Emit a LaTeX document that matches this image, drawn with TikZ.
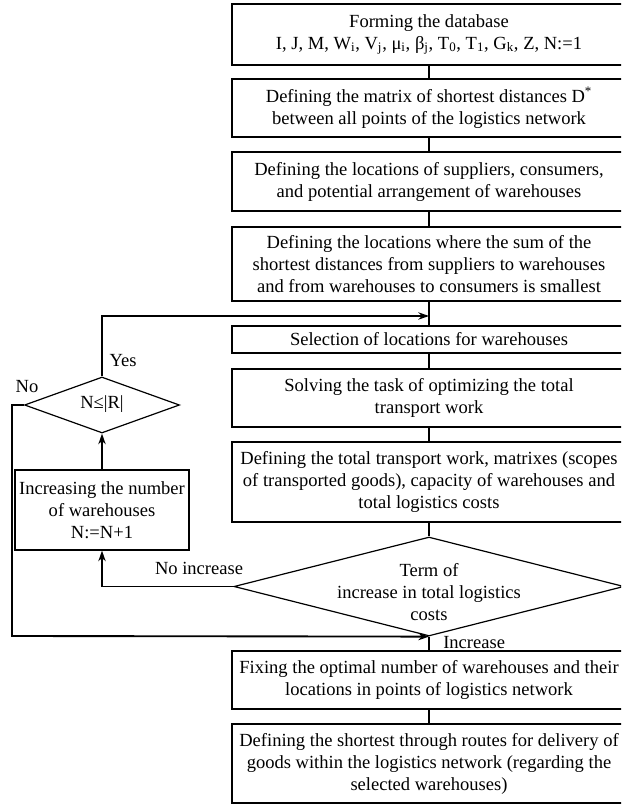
\documentclass[tikz,border=0pt]{standalone}
\usepackage{fontspec}
\setmainfont{Liberation Serif}
\usetikzlibrary{shapes.geometric,arrows.meta}
\begin{document}
\begin{tikzpicture}[x=0.75pt,y=-0.75pt,
  txt/.style={font=\fontsize{13.9}{16.5}\selectfont,align=center,inner sep=0pt},
  box/.style={txt,draw,line width=0.9pt,minimum width=295.5pt},
  lbox/.style={txt,draw,line width=0.9pt,minimum width=130.5pt},
  dia/.style={diamond,draw,line width=0.9pt,inner sep=0pt},
  conn/.style={line width=0.9pt},
  arr/.style={line width=1.4pt,-{Stealth[length=8pt,width=5.5pt]}}]
\useasboundingbox (0,0) rectangle (621,805);
\clip (0,0) rectangle (621,805);
% main column
\node[box,minimum height=45.75pt] (b1) at (429,34.5) {Forming the database\\ I, J, M, W\textsubscript{i}, V\textsubscript{j}, μ\textsubscript{i}, β\textsubscript{j}, T\textsubscript{0}, T\textsubscript{1}, G\textsubscript{k}, Z, N:=1};
\node[box,minimum height=43.5pt] (b2) at (429,108) {Defining the matrix of shortest distances D\textsuperscript{*}\\ between all points of the logistics network};
\node[box,minimum height=44.25pt] (b3) at (429,181.5) {Defining the locations of suppliers, consumers,\\ and potential arrangement of warehouses};
\node[box,minimum height=55.5pt] (b4) at (429,264) {Defining the locations where the sum of the\\ shortest distances from suppliers to warehouses\\ and from warehouses to consumers is smallest};
\node[box,minimum height=20.25pt] (b5) at (429,339.5) {Selection of locations for warehouses};
\node[box,minimum height=43.5pt] (b6) at (429,398) {Solving the task of optimizing the total\\ transport work};
\node[box,minimum height=60pt] (b7) at (429,482) {Defining the total transport work, matrixes (scopes\\ of transported goods), capacity of warehouses and\\ total logistics costs};
\node[dia,minimum width=292.5pt,minimum height=74.25pt] (d2) at (429,586.5) {};
\node[txt] (d2t) at (429,592) {Term of\\ increase in total logistics\\ costs};
\node[box,minimum height=43.5pt] (b8) at (429,680) {Fixing the optimal number of warehouses and their\\ locations in points of logistics network};
\node[box,minimum height=59.25pt] (b9) at (429,763.5) {Defining the shortest through routes for delivery of\\ goods within the logistics network (regarding the\\ selected warehouses)};
% left loop
\node[dia,minimum width=116.25pt,minimum height=42pt] (d1) at (102,405) {};
\node[txt] (d1t) at (102,404) {N≤|R|};
\node[lbox,minimum height=60pt] (lb) at (102,510) {Increasing the number\\ of warehouses\\ N:=N+1};
% labels
\node[txt] (yes) at (123,361) {Yes};
\node[txt] (no) at (27,387) {No};
\node[txt] (noinc) at (199,568) {No increase};
\node[txt,anchor=west] (inc) at (443,643) {Increase};
% connectors
\coordinate (j1) at (429,316);
\coordinate (nocorner) at (12,636);
\draw[conn] (b1.south) -- (b2.north);
\draw[conn] (b2.south) -- (b3.north);
\draw[conn] (b3.south) -- (b4.north);
\draw[conn] (b4.south) -- (b5.north);
\draw[conn] (b5.south) -- (b6.north);
\draw[conn] (b6.south) -- (b7.north);
\draw[conn] (b7.south) -- (d2.north);
\draw[conn] (d2.south) -- (b8.north);
\draw[conn] (b8.south) -- (b9.north);
\draw[arr] (d1.north) |- (j1);
\draw[arr] (d1.west) -| (nocorner) -- (d2.south);
\draw[arr] (d2.west) -| (lb.south);
\draw[arr] (lb.north) -- (d1.south);
\end{tikzpicture}
\end{document}
